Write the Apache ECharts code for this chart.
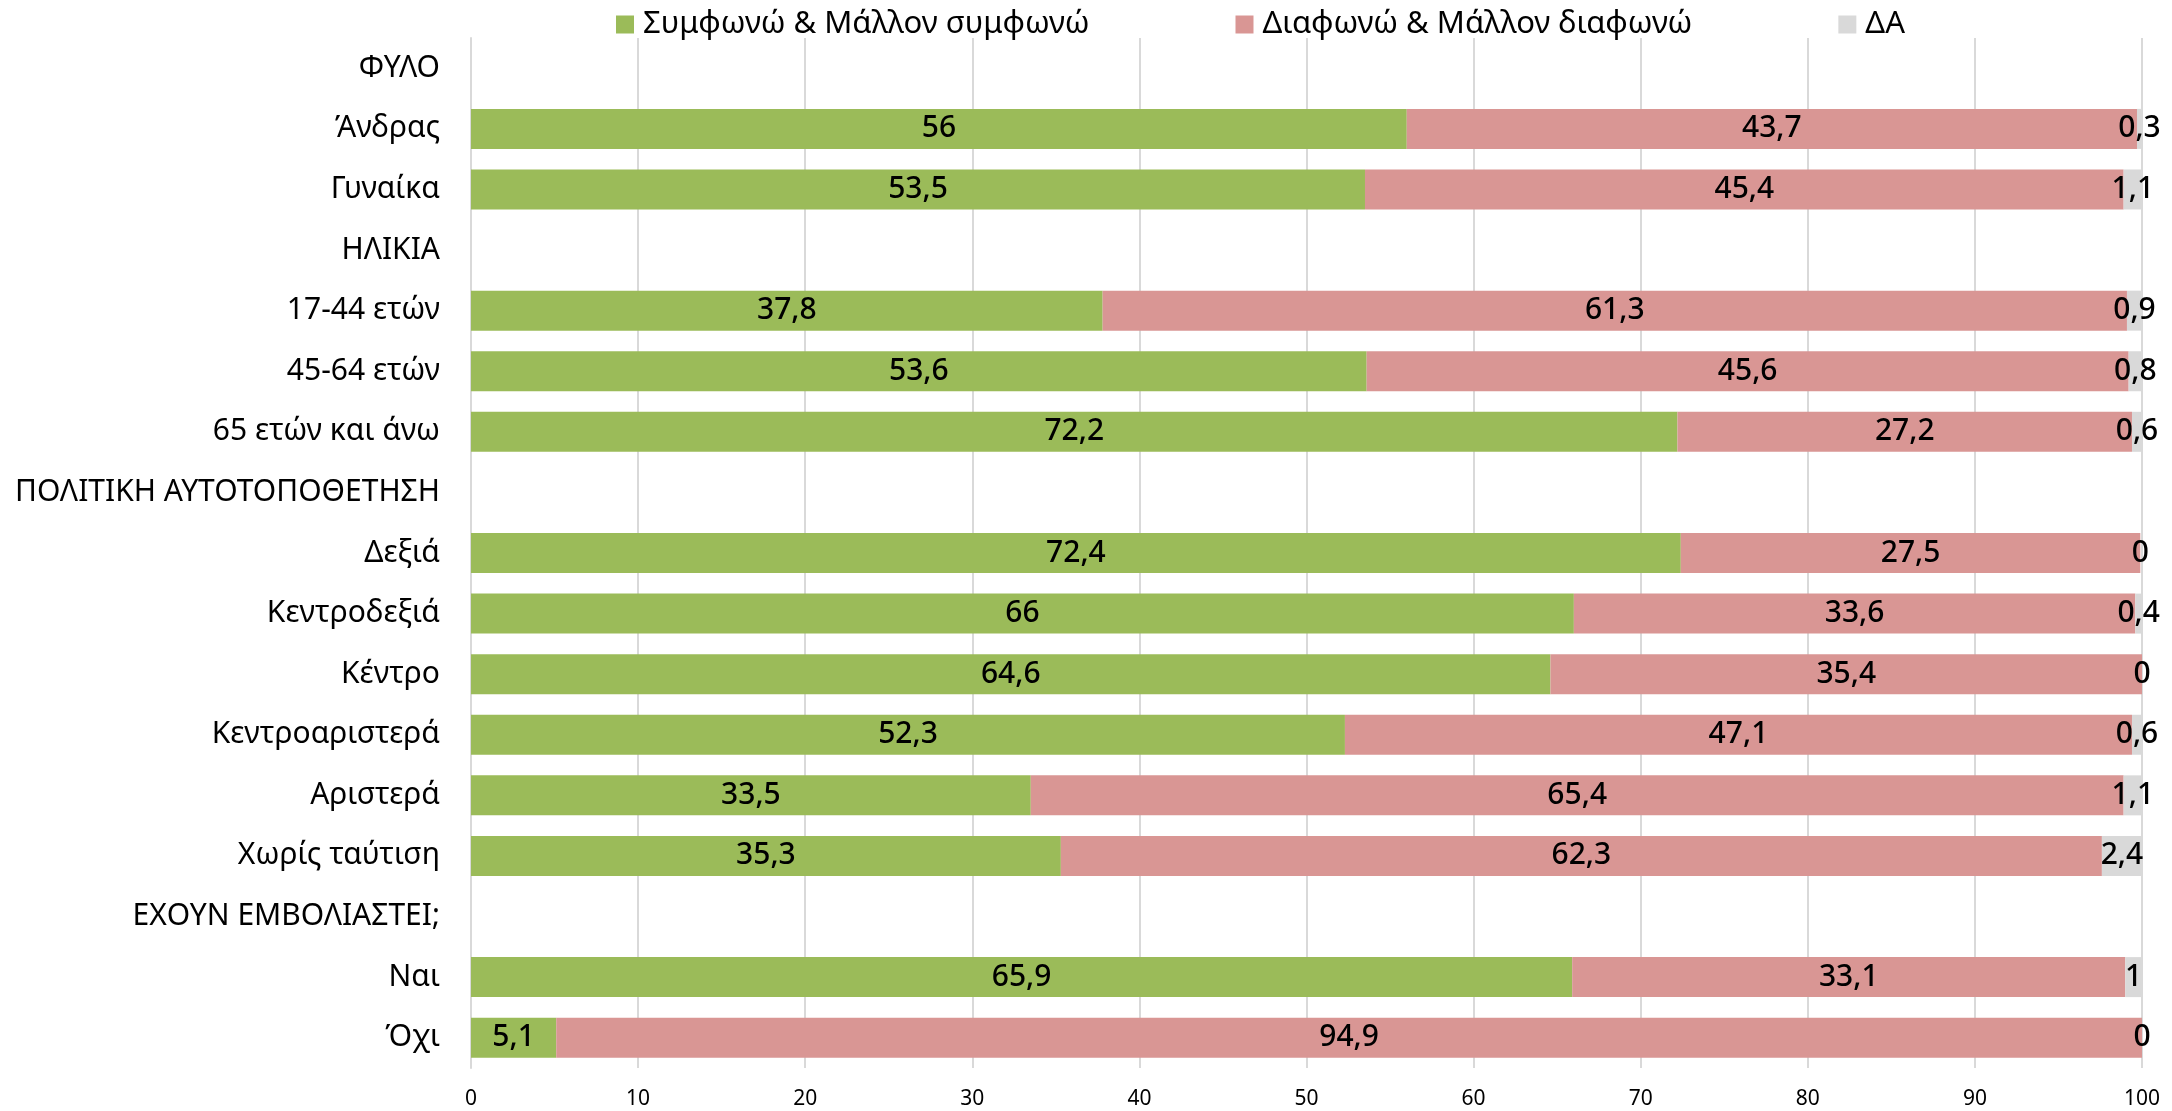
<!DOCTYPE html>
<html>
<head>
<meta charset="utf-8">
<script src="https://cdn.jsdelivr.net/npm/echarts@6/dist/echarts.min.js"></script>
<style>
  html, body { margin: 0; padding: 0; background: #fff; }
  #chart { width: 2172px; height: 1111px; }
</style>
</head>
<body>
<div id="chart"></div>
<script>
// categories top to bottom (group headers have no bars)
var categories = [
  'ΦΥΛΟ', 'Άνδρας', 'Γυναίκα',
  'ΗΛΙΚΙΑ', '17-44 ετών', '45-64 ετών', '65 ετών και άνω',
  'ΠΟΛΙΤΙΚΗ ΑΥΤΟΤΟΠΟΘΕΤΗΣΗ', 'Δεξιά', 'Κεντροδεξιά', 'Κέντρο', 'Κεντροαριστερά', 'Αριστερά', 'Χωρίς ταύτιση',
  'ΕΧΟΥΝ ΕΜΒΟΛΙΑΣΤΕΙ;', 'Ναι', 'Όχι'
]
var agree = [null, 56, 53.5, null, 37.8, 53.6, 72.2, null, 72.4, 66, 64.6, 52.3, 33.5, 35.3, null, 65.9, 5.1]
var disagree = [null, 43.7, 45.4, null, 61.3, 45.6, 27.2, null, 27.5, 33.6, 35.4, 47.1, 65.4, 62.3, null, 33.1, 94.9]
var noAnswer = [null, 0.3, 1.1, null, 0.9, 0.8, 0.6, null, 0, 0.4, 0, 0.6, 1.1, 2.4, null, 1, 0]
var seriesNames = ['Συμφωνώ & Μάλλον συμφωνώ', 'Διαφωνώ & Μάλλον διαφωνώ', 'ΔΑ']
var xTicks = { min: 0, max: 100, interval: 10 }

var FONT = 'Noto Sans'

function makeSeries (name, data, color) {
  return {
    name: name,
    type: 'bar',
    stack: 'total',
    barWidth: 40,
    data: data,
    itemStyle: { color: color },
    label: {
      show: true,
      position: 'inside',
      color: '#000',
      fontFamily: FONT,
      fontSize: 30,
      fontWeight: 500,
      formatter: function (p) {
        return p.value == null ? '' : String(p.value).replace('.', ',')
      }
    },
    emphasis: { disabled: true }
  }
}

var chart = echarts.init(document.getElementById('chart'))
var option = {
  animation: false,
  textStyle: { fontFamily: FONT },
  legend: {
    left: 611,
    top: 4,
    itemWidth: 18,
    itemHeight: 18,
    itemGap: 146,
    icon: 'rect',
    textStyle: { fontFamily: FONT, fontSize: 31, color: '#000', padding: [0, 0, 0, 4] },
    data: seriesNames
  },
  grid: { left: 471, right: 30, top: 38, bottom: 43, containLabel: false },
  xAxis: {
    type: 'value',
    min: xTicks.min,
    max: xTicks.max,
    interval: xTicks.interval,
    axisLine: { show: false },
    axisTick: { show: false },
    splitLine: { show: true, lineStyle: { color: '#D9D9D9', width: 2 } },
    axisLabel: { fontFamily: FONT, fontSize: 21, color: '#000', margin: 21 }
  },
  yAxis: {
    type: 'category',
    inverse: true,
    data: categories,
    axisLine: { show: true, lineStyle: { color: '#D9D9D9', width: 2 } },
    axisTick: { show: false },
    axisLabel: { fontFamily: FONT, fontSize: 30, color: '#000', margin: 31 }
  },
  series: [
    makeSeries(seriesNames[0], agree, '#9BBB59'),
    makeSeries(seriesNames[1], disagree, '#D99694'),
    makeSeries(seriesNames[2], noAnswer, '#D9D9D9')
  ]
}
chart.setOption(option)
</script>
</body>
</html>
